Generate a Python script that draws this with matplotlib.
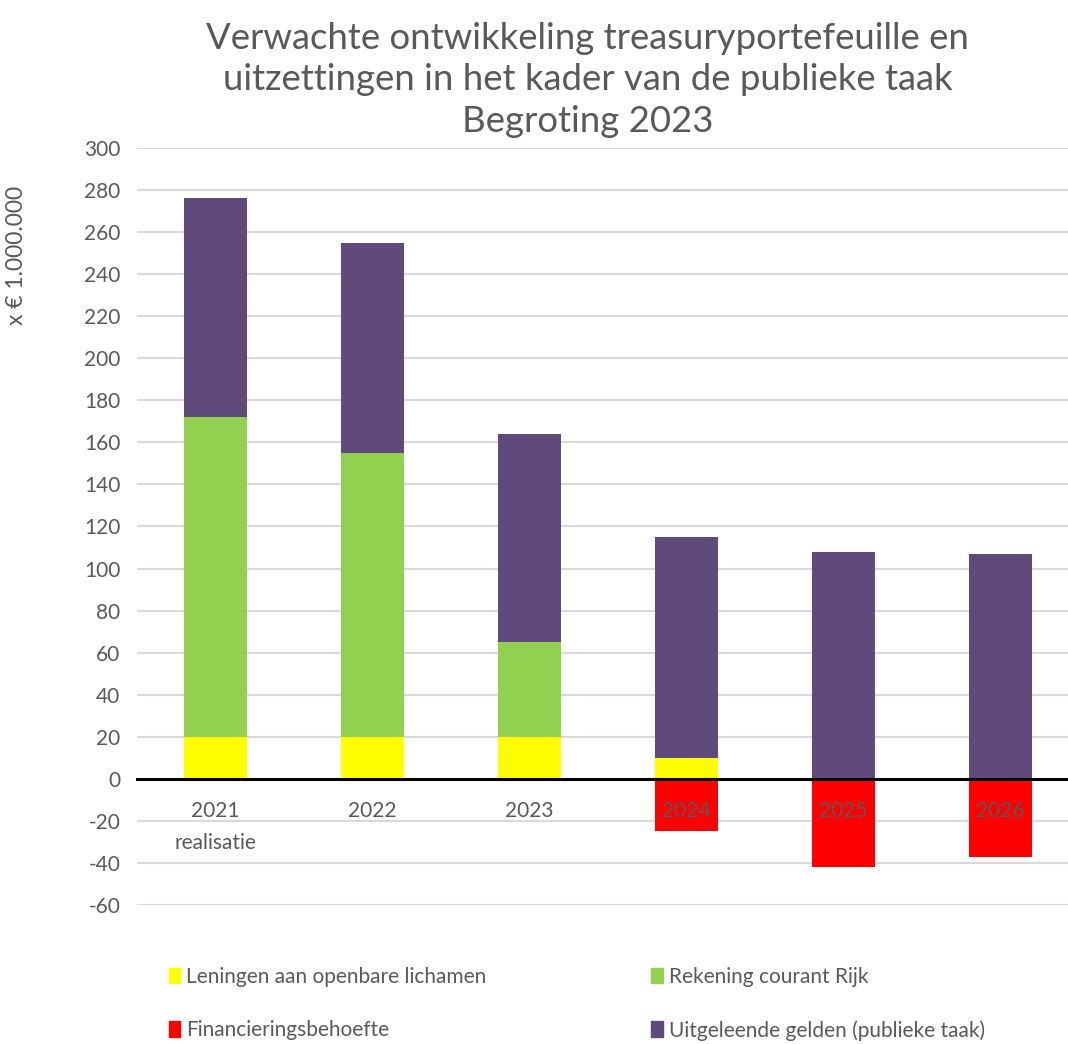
import matplotlib
matplotlib.use('Agg')
import matplotlib.pyplot as plt
from matplotlib.patches import Patch

years = ['2021\nrealisatie', '2022', '2023', '2024', '2025', '2026']
leningen = [20, 20, 20, 10, 0, 0]
rekening = [152, 135, 45, 0, 0, 0]
uitgeleend = [104, 100, 99, 105, 108, 107]
financiering = [0, 0, 0, -25, -42, -37]

series_names = ['Leningen aan openbare lichamen', 'Rekening courant Rijk',
                'Financieringsbehoefte', 'Uitgeleende gelden (publieke taak)']
colors = {'len': '#FFFF00', 'rek': '#92D050', 'fin': '#FF0000', 'uit': '#604A7B'}
grey = '#595959'

plt.rcParams['font.family'] = ['Lato', 'DejaVu Sans']
plt.rcParams['axes.unicode_minus'] = False

fig = plt.figure(figsize=(10.68, 10.44), dpi=100)
ax = fig.add_axes([137 / 1068, 1 - 905 / 1044, 1 - 137 / 1068, (905 - 148) / 1044])

yticks = list(range(-60, 301, 20))
# gridlines drawn by hand so tick labels can sit above the bars
for yt in yticks:
    if yt != 0:
        ax.axhline(yt, color='#D9D9D9', linewidth=1.5, zorder=0)

x = list(range(len(years)))
w = 0.4
bottom2 = [a + b for a, b in zip(leningen, rekening)]
ax.bar(x, leningen, width=w, color=colors['len'], zorder=1)
ax.bar(x, rekening, width=w, bottom=leningen, color=colors['rek'], zorder=1)
ax.bar(x, financiering, width=w, color=colors['fin'], zorder=1)
ax.bar(x, uitgeleend, width=w, bottom=bottom2, color=colors['uit'], zorder=1)

ax.set_xlim(-0.5, 5.43)
ax.set_ylim(-60, 300)
ax.set_yticks(yticks)

for s in ['top', 'right', 'left']:
    ax.spines[s].set_visible(False)
ax.spines['bottom'].set_position(('data', 0))
ax.spines['bottom'].set_color('black')
ax.spines['bottom'].set_linewidth(2.2)

ax.set_xticks(x)
ax.set_xticklabels(years, linespacing=1.75)
ax.tick_params(axis='x', length=0, pad=16, labelsize=15, labelcolor=grey)
ax.tick_params(axis='y', length=0, pad=12, labelsize=15, labelcolor=grey)

fig.text(0.5 + 0.05, 1 - 80 / 1044,
         'Verwachte ontwikkeling treasuryportefeuille en\n'
         'uitzettingen in het kader van de publieke taak\nBegroting 2023',
         ha='center', va='center', fontsize=26.3, color=grey, linespacing=1.3)

fig.text(17 / 1068, 1 - 255 / 1044, 'x € 1.000.000', rotation=90,
         ha='center', va='center', fontsize=16.5, color=grey)

handles = [Patch(color=colors['len'], label=series_names[0]),
           Patch(color=colors['fin'], label=series_names[2]),
           Patch(color=colors['rek'], label=series_names[1]),
           Patch(color=colors['uit'], label=series_names[3])]
fig.legend(handles=handles, ncol=2, frameon=False, fontsize=15,
           labelcolor=grey, handlelength=0.55, handleheight=0.8,
           handletextpad=0.3, columnspacing=7.9, labelspacing=1.6,
           loc='upper left', bbox_to_anchor=(150 / 1068, 1 - 948 / 1044))

fig.savefig('out.png', dpi=100)
